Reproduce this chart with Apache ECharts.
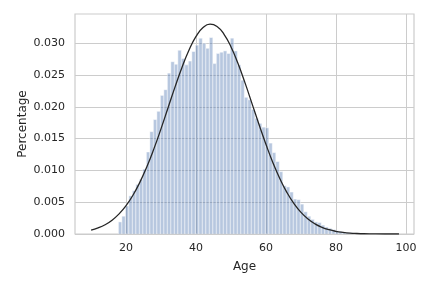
<!DOCTYPE html>
<html>
<head>
<meta charset="utf-8">
<script src="https://cdn.jsdelivr.net/npm/echarts@6/dist/echarts.min.js"></script>
<style>html,body{margin:0;padding:0;background:#fff;}#c{width:432px;height:288px;}</style>
</head>
<body>
<div id="c"></div>
<script>
// Histogram bins (age, left edge offset -0.2, width 1) and their density
const ages = [18,19,20,21,22,23,24,25,26,27,28,29,30,31,32,33,34,35,36,37,38,39,40,41,42,43,44,45,46,47,48,49,50,51,52,53,54,55,56,57,58,59,60,61,62,63,64,65,66,67,68,69,70,71,72,73,74,75,76,77,78,79,80,81,82,83,84];
const density = [0.0019,0.0028,0.0044,0.0060,0.0068,0.0078,0.0086,0.0102,0.0129,0.0161,0.0180,0.0193,0.0218,0.0227,0.0253,0.0271,0.0267,0.0289,0.0276,0.0266,0.0272,0.0287,0.0297,0.0308,0.0300,0.0292,0.0309,0.0268,0.0284,0.0286,0.0288,0.0284,0.0308,0.0288,0.0266,0.0242,0.0215,0.0211,0.0196,0.0182,0.0174,0.0168,0.0167,0.0143,0.0128,0.0114,0.0098,0.0076,0.0074,0.0066,0.0055,0.0054,0.0047,0.0035,0.0028,0.0023,0.0019,0.0018,0.0014,0.0011,0.0009,0.0007,0.0005,0.0004,0.0003,0.0002,0.0002];
const binOffset = -0.2;
const binWidth = 1;

// Fitted curve
const curveX = [10,12,14,16,18,20,22,24,26,28,30,32,34,36,38,40,42,44,46,48,50,52,54,56,58,60,62,64,66,68,70,72,74,76,78,80,82,84,86,88,90,94,98];
const curveY = [0.00061,0.00096,0.00146,0.00218,0.00317,0.00447,0.00613,0.0082,0.01065,0.01347,0.01657,0.01985,0.02314,0.02623,0.02894,0.03107,0.03246,0.0330,0.03264,0.03141,0.02942,0.02681,0.02377,0.02051,0.01722,0.01407,0.01118,0.00866,0.00651,0.00477,0.0034,0.00236,0.00159,0.00105,0.00067,0.00041,0.00025,0.00014,0.00008,0.00004,0.00002,0.0,0.0];

const xTicks = [20,40,60,80,100];
const yTicks = [0,0.005,0.010,0.015,0.020,0.025,0.030];

const histData = ages.map((a,i)=>[a+binOffset, a+binOffset+binWidth, density[i]]);
const curveData = curveX.map((x,i)=>[x, curveY[i]]);

const font = 'DejaVu Sans';
const chart = echarts.init(document.getElementById('c'), null, {renderer:'canvas'});
chart.setOption({
  animation:false,
  backgroundColor:'#fff',
  grid:{left:75,right:18,top:14,bottom:54,show:true,borderColor:'#cccccc',borderWidth:1.2,backgroundColor:'transparent'},
  xAxis:{
    type:'value', min:5.4, max:102.3,
    name:'Age', nameLocation:'middle', nameGap:27, nameMoveOverlap:false,
    nameTextStyle:{fontFamily:font,fontSize:12,color:'#262626'},
    axisLine:{show:false}, 
    axisTick:{show:false, customValues:xTicks},
    axisLabel:{customValues:xTicks, fontFamily:font, fontSize:11, color:'#262626', margin:9},
    splitLine:{show:true, lineStyle:{color:'#cccccc',width:1}}
  },
  yAxis:{
    type:'value', min:0, max:0.0346,
    name:'Percentage', nameLocation:'middle', nameGap:46, nameMoveOverlap:false,
    nameTextStyle:{fontFamily:font,fontSize:12,color:'#262626'},
    axisLine:{show:false},
    axisTick:{show:false, customValues:yTicks},
    axisLabel:{customValues:yTicks, fontFamily:font, fontSize:11, color:'#262626', margin:10, formatter:v=>v.toFixed(3)},
    splitLine:{show:true, lineStyle:{color:'#cccccc',width:1}}
  },
  series:[
    {
      type:'custom',
      data:histData,
      encode:{x:[0,1], y:2},
      clip:true,
      renderItem:function(params, api){
        const p0 = api.coord([api.value(0), api.value(2)]);
        const p1 = api.coord([api.value(1), 0]);
        return {type:'rect', shape:{x:p0[0], y:p0[1], width:p1[0]-p0[0], height:p1[1]-p0[1]},
          style:{fill:'rgba(76,114,176,0.4)', stroke:'rgba(255,255,255,0.6)', lineWidth:0.8}};
      }
    },
    {
      type:'line', data:curveData, smooth:true, showSymbol:false,
      lineStyle:{color:'#262626', width:1.3}
    }
  ]
});
</script>
</body>
</html>
